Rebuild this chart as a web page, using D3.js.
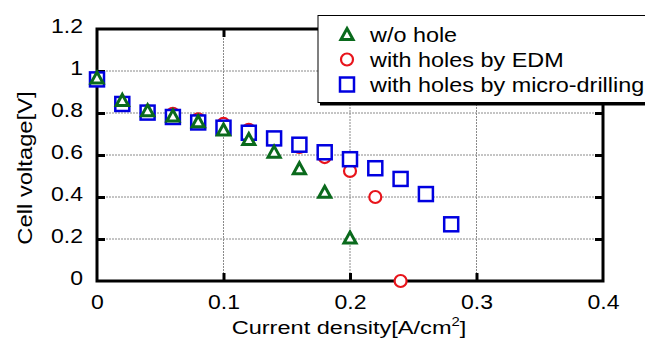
<!DOCTYPE html>
<html><head><meta charset="utf-8">
<script src="https://cdn.jsdelivr.net/npm/d3@7"></script>
<style>body{margin:0;background:#fff}svg{display:block}text{font-family:"Liberation Sans",Arial,sans-serif;fill:#000}</style>
</head><body><svg id="c" width="645" height="339"></svg>
<script>
const xTicks = [0, 0.1, 0.2, 0.3, 0.4];
const xTickLabels = ["0", "0.1", "0.2", "0.3", "0.4"];
const yTicks = [0, 0.2, 0.4, 0.6, 0.8, 1.0, 1.2];
const yTickLabels = ["0", "0.2", "0.4", "0.6", "0.8", "1", "1.2"];
const currentDensity = [0, 0.02, 0.04, 0.06, 0.08, 0.10, 0.12, 0.14, 0.16, 0.18, 0.20, 0.22, 0.24, 0.26, 0.28];
const woHole = [0.969, 0.862, 0.813, 0.788, 0.761, 0.721, 0.676, 0.616, 0.537, 0.425, 0.207];
const edm = [0.965, 0.845, 0.808, 0.796, 0.770, 0.748, 0.720, 0.675, 0.638, 0.590, 0.524, 0.400, 0.0];
const micro = [0.960, 0.843, 0.802, 0.781, 0.755, 0.730, 0.706, 0.679, 0.649, 0.613, 0.580, 0.537, 0.486, 0.414, 0.270];
const seriesNames = ["w/o hole", "with holes by EDM", "with holes by micro-drilling"];
const colors = {tri: "#0a6a1c", circ: "#e8141b", sq: "#0000e0"};
const SX = 1.18; // horizontal text stretch seen in the reference

const svg = d3.select("#c");
const L = 97, R = 603, T = 29, B = 281;
const x = d3.scaleLinear().domain([0, 0.4]).range([L, R]);
const y = d3.scaleLinear().domain([0, 1.2]).range([B, T]);

// grid
const g = svg.append("g");
g.selectAll("line.gx").data(xTicks.slice(1, -1)).join("line")
  .attr("x1", d => x(d)).attr("x2", d => x(d)).attr("y1", T).attr("y2", B)
  .attr("stroke", "#8a8a8a").attr("stroke-width", 1).attr("stroke-dasharray", "2,1");
g.selectAll("line.gy").data(yTicks.slice(1, -1)).join("line")
  .attr("y1", d => y(d)).attr("y2", d => y(d)).attr("x1", L).attr("x2", R)
  .attr("stroke", "#8a8a8a").attr("stroke-width", 1).attr("stroke-dasharray", "2,1");

function styleAxis(sel) {
  sel.select(".domain").remove();
  sel.selectAll(".tick line").attr("stroke", "#000").attr("stroke-width", 3);
  sel.selectAll(".tick text").attr("font-size", 19.5).attr("fill", "#000");
}
const xa = svg.append("g").attr("transform", `translate(0,${B})`)
  .call(d3.axisBottom(x).tickValues(xTicks).tickSizeInner(-8).tickSizeOuter(0).tickPadding(14)
    .tickFormat((d, i) => xTickLabels[i]));
styleAxis(xa);
xa.selectAll(".tick text").attr("transform", `scale(${SX},1)`);
xa.selectAll(".tick").filter(d => d === 0 || d === 0.4).select("line").remove();
const xt = svg.append("g").attr("transform", `translate(0,${T})`)
  .call(d3.axisTop(x).tickValues(xTicks.slice(1, -1)).tickSizeInner(-8).tickSizeOuter(0).tickFormat(""));
styleAxis(xt);
const ya = svg.append("g").attr("transform", `translate(${L},0)`)
  .call(d3.axisLeft(y).tickValues(yTicks).tickSizeInner(-8).tickSizeOuter(0).tickPadding(14)
    .tickFormat((d, i) => yTickLabels[i]));
styleAxis(ya);
ya.selectAll(".tick text").attr("dy", "0.18em").attr("x", -14 / SX).attr("transform", `scale(${SX},1)`);
ya.selectAll(".tick").filter(d => d === 0 || d === 1.2).select("line").remove();
const yr = svg.append("g").attr("transform", `translate(${R},0)`)
  .call(d3.axisRight(y).tickValues(yTicks.slice(1, -1)).tickSizeInner(-8).tickSizeOuter(0).tickFormat(""));
styleAxis(yr);

svg.append("rect").attr("x", L).attr("y", T).attr("width", R - L).attr("height", B - T)
  .attr("fill", "none").attr("stroke", "#000").attr("stroke-width", 3);

// markers
const triPath = s => `M0,${-s * 0.5}L${s * 0.55},${s * 0.5}L${-s * 0.55},${s * 0.5}Z`;
function drawCircle(gg, cx, cy) {
  gg.append("circle").attr("cx", cx).attr("cy", cy).attr("r", 6)
    .attr("fill", "#fff").attr("stroke", colors.circ).attr("stroke-width", 2.2);
}
function drawSquare(gg, cx, cy) {
  gg.append("rect").attr("x", cx - 7).attr("y", cy - 7).attr("width", 14).attr("height", 14)
    .attr("fill", "#fff").attr("stroke", colors.sq).attr("stroke-width", 2.5);
}
function drawTri(gg, cx, cy) {
  gg.append("path").attr("d", triPath(11)).attr("transform", `translate(${cx},${cy})`)
    .attr("fill", "#fff").attr("stroke", colors.tri).attr("stroke-width", 3).attr("stroke-linejoin", "miter");
}
const pts = svg.append("g");
edm.forEach((v, i) => drawCircle(pts, x(currentDensity[i]), y(v)));
micro.forEach((v, i) => drawSquare(pts, x(currentDensity[i]), y(v)));
woHole.forEach((v, i) => drawTri(pts, x(currentDensity[i]), y(v)));

// axis titles
svg.append("g").attr("transform", `translate(349,334) scale(1.24,1)`)
  .append("text").attr("text-anchor", "middle").attr("font-size", 19)
  .html('Current density[A/cm<tspan dy="-8" font-size="12">2</tspan><tspan dy="8">]</tspan>');
svg.append("g").attr("transform", "translate(32,168) rotate(-90) scale(1.22,1)")
  .append("text").attr("text-anchor", "middle").attr("font-size", 19.5).text("Cell voltage[V]");

// legend
const lg = svg.append("g");
lg.append("rect").attr("x", 320).attr("y", 17.5).attr("width", 340).attr("height", 88).attr("fill", "#000");
lg.append("rect").attr("x", 318).attr("y", 15.5).attr("width", 340).attr("height", 87)
  .attr("fill", "#fff").attr("stroke", "#000").attr("stroke-width", 1);
const rows = [34, 59.5, 84.5];
drawTri(lg, 347, rows[0]);
drawCircle(lg, 347, rows[1]);
drawSquare(lg, 347, rows[2]);
seriesNames.forEach((n, i) => lg.append("g").attr("transform", `translate(370,${rows[i] + 7.5}) scale(1.17,1)`)
  .append("text").attr("font-size", 20).text(n));
</script></body></html>
